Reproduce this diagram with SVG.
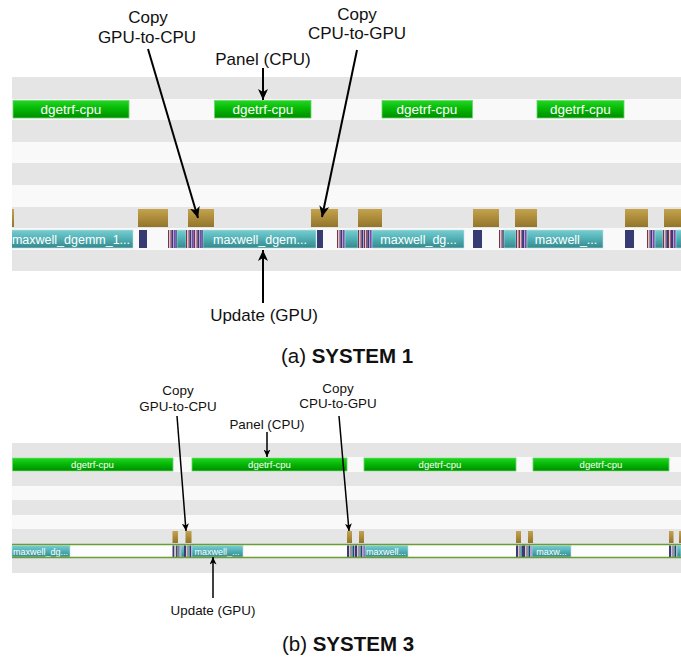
<svg xmlns="http://www.w3.org/2000/svg" xmlns:xlink="http://www.w3.org/1999/xlink" width="681" height="661" viewBox="0 0 681 661">
  <style>
    .bd { fill: #e5e5e5; }
    .bl { fill: #f9f9f9; }
    .cpu { fill: url(#gGreen); stroke: #6ad66a; stroke-width: 0.8; }
    .cpy { fill: url(#gGold); }
    .krn { fill: url(#gTeal); stroke: #b9e2e3; stroke-width: 0.6; }
    .nv { fill: #363b73; }
    .mr { fill: #7e3247; }
    .lp { fill: #d8c8d6; }
    .pu { fill: #7c46b6; }
    .lv { fill: #b7a2d2; }
    .tl { fill: #4aa3a6; }
    .t-cpu { font-family: "Liberation Sans", Arial, sans-serif; fill: #ffffff; text-anchor: middle; }
    .t-krn { font-family: "Liberation Sans", Arial, sans-serif; fill: #ffffff; text-anchor: middle; }
    .lbl { font-family: "Liberation Sans", Arial, sans-serif; fill: #111111; text-anchor: middle; }
    .cap { font-family: "Liberation Sans", Arial, sans-serif; fill: #111111; text-anchor: middle; }
    .big { font-size: 17px; }
    .sm { font-size: 13.4px; }
    .arr1 { stroke: #000; stroke-width: 2; fill: none; marker-end: url(#ah1); }
    .arr2 { stroke: #000; stroke-width: 1.5; fill: none; marker-end: url(#ah2); }
    .gpuline { stroke: #6a9e35; stroke-width: 1.4; }
  </style>
  <defs>
    <linearGradient id="gGreen" x1="0" y1="0" x2="0" y2="1">
      <stop offset="0" stop-color="#22d622"/>
      <stop offset="0.5" stop-color="#04b604"/>
      <stop offset="1" stop-color="#008c00"/>
    </linearGradient>
    <linearGradient id="gGold" x1="0" y1="0" x2="0" y2="1">
      <stop offset="0" stop-color="#c4a34c"/>
      <stop offset="1" stop-color="#93752b"/>
    </linearGradient>
    <linearGradient id="gTeal" x1="0" y1="0" x2="0" y2="1">
      <stop offset="0" stop-color="#78cdd0"/>
      <stop offset="0.5" stop-color="#4fafb3"/>
      <stop offset="1" stop-color="#35888c"/>
    </linearGradient>
    <marker id="ah1" markerUnits="userSpaceOnUse" markerWidth="12" markerHeight="10" refX="11" refY="5" orient="auto">
      <path d="M0,0 L11,5 L0,10 L3,5 z" fill="#000"/>
    </marker>
    <marker id="ah2" markerUnits="userSpaceOnUse" markerWidth="8" markerHeight="7" refX="7.5" refY="3.5" orient="auto">
      <path d="M0,0 L7.5,3.5 L0,7 L2,3.5 z" fill="#000"/>
    </marker>
    <!-- short bursts of small kernels between the big updates -->
    <g id="burstA">
      <rect class="mr" x="0" width="1" height="18"/>
      <rect class="lp" x="1" width="1.5" height="18"/>
      <rect class="mr" x="2.5" width="1" height="18"/>
      <rect class="nv" x="3.5" width="1.5" height="18"/>
      <rect class="lv" x="5" width="1" height="18"/>
      <rect class="pu" x="6" width="1.5" height="18"/>
      <rect class="nv" x="7.5" width="1.5" height="18"/>
    </g>
    <g id="burstB">
      <rect class="nv" x="0" width="2" height="12"/>
      <rect class="lp" x="2" width="1.5" height="12"/>
      <rect class="mr" x="3.5" width="1" height="12"/>
      <rect class="tl" x="4.5" width="1.5" height="12"/>
      <rect class="nv" x="6" width="1" height="12"/>
      <rect class="lv" x="7" width="1.5" height="12"/>
      <rect class="pu" x="8.5" width="1.5" height="12"/>
    </g>
    <clipPath id="clipTop"><rect x="12" y="0" width="669" height="661"/></clipPath>
  </defs>

  <!-- ===== (a) SYSTEM 1 ===== -->
  <g id="lanes-a">
    <rect class="bd" x="12" y="77" width="669" height="22"/>
    <rect class="bl" x="12" y="99" width="669" height="21"/>
    <rect class="bd" x="12" y="120" width="669" height="22"/>
    <rect class="bl" x="12" y="142" width="669" height="21"/>
    <rect class="bd" x="12" y="163" width="669" height="22"/>
    <rect class="bl" x="12" y="185" width="669" height="22"/>
    <rect class="bd" x="12" y="207" width="669" height="21"/>
    <rect class="bl" x="12" y="228" width="669" height="22"/>
    <rect class="bd" x="12" y="250" width="669" height="21"/>
  </g>

  <g id="cpu-a">
    <g id="a-panel-1"><rect class="cpu" x="13" y="100.5" width="116" height="17.5"/><text class="t-cpu" x="71" y="114" font-size="13.5">dgetrf-cpu</text></g>
    <g id="a-panel-2"><rect class="cpu" x="214.5" y="100.5" width="96.5" height="17.5"/><text class="t-cpu" x="263" y="114" font-size="13.5">dgetrf-cpu</text></g>
    <g id="a-panel-3"><rect class="cpu" x="382" y="100.5" width="90.5" height="17.5"/><text class="t-cpu" x="427" y="114" font-size="13.5">dgetrf-cpu</text></g>
    <g id="a-panel-4"><rect class="cpu" x="537" y="100.5" width="87" height="17.5"/><text class="t-cpu" x="580.5" y="114" font-size="13.5">dgetrf-cpu</text></g>
  </g>

  <g id="copy-a">
    <rect id="a-copy-0" class="cpy" x="12" y="209" width="2" height="18"/>
    <rect id="a-copy-1" class="cpy" x="138" y="209" width="30" height="18"/>
    <rect id="a-copy-2" class="cpy" x="188" y="209" width="26" height="18"/>
    <rect id="a-copy-3" class="cpy" x="311" y="209" width="27" height="18"/>
    <rect id="a-copy-4" class="cpy" x="358" y="209" width="24" height="18"/>
    <rect id="a-copy-5" class="cpy" x="473" y="209" width="26" height="18"/>
    <rect id="a-copy-6" class="cpy" x="515" y="209" width="22" height="18"/>
    <rect id="a-copy-7" class="cpy" x="625" y="209" width="23" height="18"/>
    <rect id="a-copy-8" class="cpy" x="664" y="209" width="17" height="18"/>
  </g>

  <g id="gpu-a" clip-path="url(#clipTop)">
    <g id="a-update-1"><rect class="krn" x="4" y="230" width="129" height="18"/><text class="t-krn" x="71" y="244" font-size="12.5">maxwell_dgemm_1...</text></g>
    <rect class="nv" x="139" y="230" width="8" height="18"/>
    <use xlink:href="#burstA" x="168" y="230"/>
    <rect class="krn" x="177" y="230" width="9" height="18"/>
    <use xlink:href="#burstA" x="186" y="230"/>
    <use xlink:href="#burstA" x="194" y="230"/>
    <g id="a-update-2"><rect class="krn" x="203" y="230" width="113" height="18"/><text class="t-krn" x="260" y="244" font-size="12.5">maxwell_dgem...</text></g>
    <rect class="nv" x="317" y="230" width="6" height="18"/>
    <use xlink:href="#burstA" x="337" y="230"/>
    <rect class="krn" x="345" y="230" width="13" height="18"/>
    <use xlink:href="#burstA" x="358" y="230"/>
    <use xlink:href="#burstA" x="364" y="230"/>
    <g id="a-update-3"><rect class="krn" x="372" y="230" width="92" height="18"/><text class="t-krn" x="418.5" y="244" font-size="12.5">maxwell_dg...</text></g>
    <rect class="nv" x="473" y="230" width="9" height="18"/>
    <use xlink:href="#burstA" x="499" y="230"/>
    <rect class="krn" x="504" y="230" width="12" height="18"/>
    <use xlink:href="#burstA" x="516" y="230"/>
    <use xlink:href="#burstA" x="519" y="230"/>
    <g id="a-update-4"><rect class="krn" x="527" y="230" width="76" height="18"/><text class="t-krn" x="566" y="244" font-size="12.5">maxwell_...</text></g>
    <rect class="nv" x="625" y="230" width="9" height="18"/>
    <use xlink:href="#burstA" x="647" y="230"/>
    <rect class="krn" x="655" y="230" width="8" height="18"/>
    <use xlink:href="#burstA" x="663" y="230"/>
    <use xlink:href="#burstA" x="668" y="230"/>
    <rect class="krn" x="676" y="230" width="8" height="18"/>
  </g>

  <g id="labels-a">
    <g id="a-lbl-g2c"><text class="lbl big" x="148" y="23">Copy</text><text class="lbl big" x="147" y="43">GPU-to-CPU</text></g>
    <g id="a-lbl-c2g"><text class="lbl big" x="357" y="19.5">Copy</text><text class="lbl big" x="357" y="38.5">CPU-to-GPU</text></g>
    <g id="a-lbl-panel"><text class="lbl big" x="263" y="65">Panel (CPU)</text></g>
    <g id="a-lbl-update"><text class="lbl big" x="264" y="321">Update (GPU)</text></g>
    <text class="cap" x="347" y="363" font-size="20.5">(a) <tspan font-weight="bold">SYSTEM 1</tspan></text>
  </g>

  <!-- ===== (b) SYSTEM 3 ===== -->
  <g id="lanes-b">
    <rect class="bd" x="12" y="443" width="669" height="14"/>
    <rect class="bl" x="12" y="457" width="669" height="15"/>
    <rect class="bd" x="12" y="472" width="669" height="14"/>
    <rect class="bl" x="12" y="486" width="669" height="14"/>
    <rect class="bd" x="12" y="500" width="669" height="15"/>
    <rect class="bl" x="12" y="515" width="669" height="14"/>
    <rect class="bd" x="12" y="529" width="669" height="15"/>
    <rect fill="#fdfdfd" x="12" y="544" width="669" height="14"/>
    <rect class="bd" x="12" y="558" width="669" height="15"/>
  </g>

  <g id="cpu-b">
    <g id="b-panel-1"><rect class="cpu" x="12.5" y="458" width="160.5" height="13"/><text class="t-cpu" x="92.5" y="468" font-size="9.5">dgetrf-cpu</text></g>
    <g id="b-panel-2"><rect class="cpu" x="192" y="458" width="155" height="13"/><text class="t-cpu" x="269.5" y="468" font-size="9.5">dgetrf-cpu</text></g>
    <g id="b-panel-3"><rect class="cpu" x="364" y="458" width="152" height="13"/><text class="t-cpu" x="440" y="468" font-size="9.5">dgetrf-cpu</text></g>
    <g id="b-panel-4"><rect class="cpu" x="533" y="458" width="136" height="13"/><text class="t-cpu" x="601" y="468" font-size="9.5">dgetrf-cpu</text></g>
  </g>

  <g id="copy-b">
    <rect id="b-copy-1" class="cpy" x="172.5" y="531" width="5.5" height="12"/>
    <rect id="b-copy-2" class="cpy" x="185.5" y="531" width="6" height="12"/>
    <rect id="b-copy-3" class="cpy" x="347" y="531" width="5" height="12"/>
    <rect id="b-copy-4" class="cpy" x="359" y="531" width="5" height="12"/>
    <rect id="b-copy-5" class="cpy" x="516" y="531" width="5" height="12"/>
    <rect id="b-copy-6" class="cpy" x="528" y="531" width="5" height="12"/>
    <rect id="b-copy-7" class="cpy" x="669" y="531" width="4.5" height="12"/>
    <rect id="b-copy-8" class="cpy" x="679" y="531" width="2" height="12"/>
  </g>

  <g id="gpu-b">
    <g id="b-update-1"><rect class="krn" x="12" y="545.5" width="58" height="11.5"/><text class="t-krn" x="40.5" y="554.5" font-size="9">maxwell_dg...</text></g>
    <use xlink:href="#burstB" x="172.5" y="545.5"/>
    <rect class="krn" x="181" y="545.5" width="4" height="11.5"/>
    <use xlink:href="#burstB" x="184" y="545.5"/>
    <g id="b-update-2"><rect class="krn" x="192" y="545.5" width="51" height="11.5"/><text class="t-krn" x="217" y="554.5" font-size="9">maxwell_...</text></g>
    <use xlink:href="#burstB" x="347" y="545.5"/>
    <use xlink:href="#burstB" x="355" y="545.5"/>
    <g id="b-update-3"><rect class="krn" x="365" y="545.5" width="43" height="11.5"/><text class="t-krn" x="386" y="554.5" font-size="9">maxwell...</text></g>
    <use xlink:href="#burstB" x="516" y="545.5"/>
    <use xlink:href="#burstB" x="523" y="545.5"/>
    <g id="b-update-4"><rect class="krn" x="532" y="545.5" width="39" height="11.5"/><text class="t-krn" x="551.5" y="554.5" font-size="9">maxw...</text></g>
    <use xlink:href="#burstB" x="669" y="545.5"/>
    <rect class="krn" x="677" y="545.5" width="4" height="11.5"/>
    <line class="gpuline" x1="12" y1="544.5" x2="681" y2="544.5"/>
    <line class="gpuline" x1="12" y1="557.5" x2="681" y2="557.5"/>
  </g>

  <g id="labels-b">
    <g id="b-lbl-g2c"><text class="lbl sm" x="178" y="395">Copy</text><text class="lbl sm" x="178" y="411">GPU-to-CPU</text></g>
    <g id="b-lbl-c2g"><text class="lbl sm" x="338" y="393">Copy</text><text class="lbl sm" x="338" y="408">CPU-to-GPU</text></g>
    <g id="b-lbl-panel"><text class="lbl sm" x="267" y="429">Panel (CPU)</text></g>
    <g id="b-lbl-update"><text class="lbl sm" x="213" y="615">Update (GPU)</text></g>
    <text class="cap" x="348" y="651" font-size="20.5">(b) <tspan font-weight="bold">SYSTEM 3</tspan></text>
  </g>

  <!-- annotation arrows -->
  <g id="connectors">
    <line class="arr1" x1="148" y1="49" x2="198" y2="218"/>
    <line class="arr1" x1="357" y1="50" x2="322" y2="217"/>
    <line class="arr1" x1="263" y1="68" x2="263" y2="100"/>
    <line class="arr1" x1="263" y1="303" x2="263" y2="250"/>
    <line class="arr2" x1="177" y1="416" x2="186" y2="531"/>
    <line class="arr2" x1="339" y1="416" x2="349" y2="531"/>
    <line class="arr2" x1="267" y1="432" x2="267" y2="457"/>
    <line class="arr2" x1="213" y1="598" x2="213" y2="557"/>
  </g>
</svg>
